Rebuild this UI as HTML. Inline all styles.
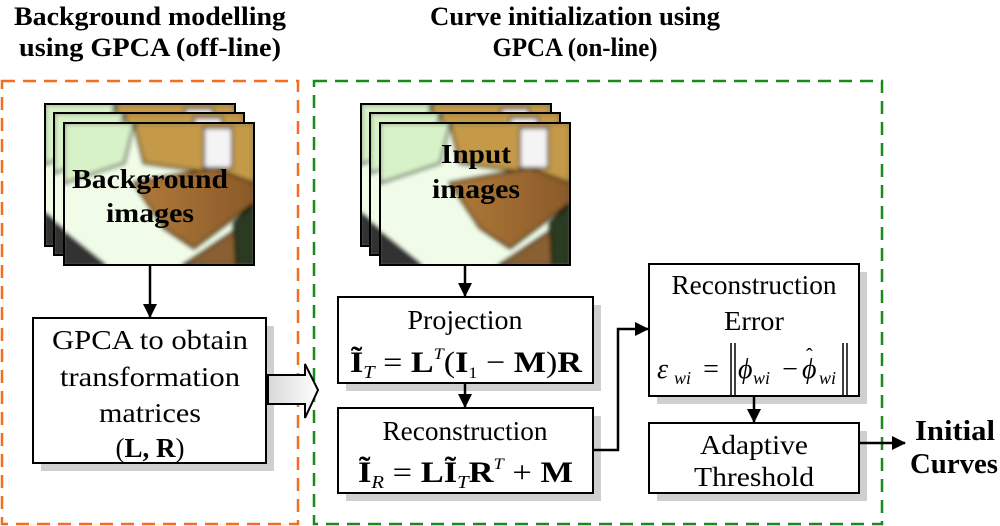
<!DOCTYPE html>
<html><head><meta charset="utf-8"><style>
html,body{margin:0;padding:0;background:#fff;width:1000px;height:526px;overflow:hidden}
svg{display:block}
text{font-family:"Liberation Serif","DejaVu Serif","Noto Serif CJK SC",serif}
</style></head><body>
<svg width="1000" height="526" viewBox="0 0 1000 526" xmlns="http://www.w3.org/2000/svg">
<defs>
<linearGradient id="floor" x1="0" y1="0" x2="1" y2="0">
<stop offset="0" stop-color="#b07a3a"/><stop offset="1" stop-color="#8a5a28"/>
</linearGradient>
<linearGradient id="harrow" x1="0" y1="0" x2="1" y2="0">
<stop offset="0" stop-color="#d8d8d8"/><stop offset="1" stop-color="#ffffff"/>
</linearGradient>
<filter id="bl"><feGaussianBlur stdDeviation="2"/></filter>
<marker id="ah" markerWidth="14" markerHeight="14" refX="13" refY="7" orient="auto" markerUnits="userSpaceOnUse">
<path d="M0,0 L14,7 L0,14 z" fill="#000"/></marker>
<clipPath id="pc"><rect x="0" y="0" width="190" height="142"/></clipPath>
<g id="photo">
<g clip-path="url(#pc)">
<rect x="0" y="0" width="190" height="142" fill="#f0fbe8"/>
<g filter="url(#bl)">
<path d="M70,0 H190 V70 L150,50 L80,40 Z" fill="#c49a48"/>
<path d="M0,0 H70 L60,40 L0,60 Z" fill="#d8f2c8"/>
<path d="M70,60 L150,45 L190,60 L190,80 L130,125 L100,105 Z" fill="url(#floor)"/>
<path d="M120,142 L190,95 L190,142 Z" fill="#8a6030"/>
<rect x="140" y="5" width="28" height="40" fill="#f4f4f4"/>
<path d="M0,110 L40,142 L0,142 Z" fill="#333"/>
<path d="M170,100 L190,80 L190,142 L172,142 Z" fill="#2a3a20"/>
</g></g>
</g>
</defs>
<rect x="2" y="81" width="296" height="443" fill="none" stroke="#f07020" stroke-width="2.5" stroke-dasharray="13,8"/>
<rect x="314" y="81" width="568" height="443" fill="none" stroke="#1a8a1a" stroke-width="2.5" stroke-dasharray="13,8"/>
<g font-size="26" font-weight="bold" text-anchor="middle">
<text x="150" y="25" textLength="272" lengthAdjust="spacingAndGlyphs">Background modelling</text>
<text x="150" y="56" textLength="262" lengthAdjust="spacingAndGlyphs">using GPCA (off-line)</text>
<text x="575" y="25" textLength="290" lengthAdjust="spacingAndGlyphs">Curve initialization using</text>
<text x="575" y="56" textLength="165" lengthAdjust="spacingAndGlyphs">GPCA (on-line)</text>
</g>
<g stroke="#000" stroke-width="2">
<use href="#photo" x="45" y="104"/><rect x="45" y="104" width="190" height="142" fill="none"/>
<use href="#photo" x="54" y="113"/><rect x="54" y="113" width="190" height="142" fill="none"/>
<use href="#photo" x="64" y="123"/><rect x="64" y="123" width="190" height="142" fill="none"/>
</g>
<text x="150" y="188" font-size="27" font-weight="bold" text-anchor="middle" textLength="156" lengthAdjust="spacingAndGlyphs">Background</text>
<text x="150" y="222" font-size="27" font-weight="bold" text-anchor="middle" textLength="88" lengthAdjust="spacingAndGlyphs">images</text>
<g stroke="#000" stroke-width="2">
<use href="#photo" x="361" y="104"/><rect x="361" y="104" width="190" height="142" fill="none"/>
<use href="#photo" x="370" y="113"/><rect x="370" y="113" width="190" height="142" fill="none"/>
<use href="#photo" x="380" y="123"/><rect x="380" y="123" width="190" height="142" fill="none"/>
</g>
<text x="476" y="163" font-size="27" font-weight="bold" text-anchor="middle" textLength="70" lengthAdjust="spacingAndGlyphs">Input</text>
<text x="476" y="198" font-size="27" font-weight="bold" text-anchor="middle" textLength="88" lengthAdjust="spacingAndGlyphs">images</text>
<g fill="#cfcfcf">
<rect x="41" y="326" width="233" height="145"/>
<rect x="346" y="305" width="255" height="86"/>
<rect x="346" y="416" width="255" height="85"/>
<rect x="657" y="272" width="210" height="132"/>
<rect x="657" y="431" width="210" height="70"/>
</g>
<g fill="#fff" stroke="#000" stroke-width="2">
<rect x="33" y="318" width="233" height="145"/>
<rect x="338" y="297" width="255" height="86"/>
<rect x="338" y="408" width="255" height="85"/>
<rect x="649" y="264" width="210" height="132"/>
<rect x="649" y="423" width="210" height="70"/>
</g>
<g font-size="27" text-anchor="middle">
<text x="150" y="349" textLength="196" lengthAdjust="spacingAndGlyphs">GPCA to obtain</text>
<text x="150" y="386" textLength="180" lengthAdjust="spacingAndGlyphs">transformation</text>
<text x="150" y="422" textLength="102" lengthAdjust="spacingAndGlyphs">matrices</text>
<text x="150" y="457">(<tspan font-weight="bold">L, R</tspan>)</text>
<text x="465" y="329" textLength="115" lengthAdjust="spacingAndGlyphs">Projection</text>
<text x="465" y="440" textLength="165" lengthAdjust="spacingAndGlyphs">Reconstruction</text>
<text x="754" y="294" textLength="165" lengthAdjust="spacingAndGlyphs">Reconstruction</text>
<text x="754" y="330" textLength="60" lengthAdjust="spacingAndGlyphs">Error</text>
<text x="754" y="454" textLength="108" lengthAdjust="spacingAndGlyphs">Adaptive</text>
<text x="754" y="486" textLength="120" lengthAdjust="spacingAndGlyphs">Threshold</text>
</g>
<text x="350" y="372" font-size="30" textLength="232" lengthAdjust="spacingAndGlyphs"><tspan font-weight="bold">Ĩ</tspan><tspan font-size="18" font-style="italic" dy="6">T</tspan><tspan dy="-6"> = </tspan><tspan font-weight="bold">L</tspan><tspan font-size="16" font-style="italic" dy="-13">T</tspan><tspan dy="13">(</tspan><tspan font-weight="bold">I</tspan><tspan font-size="16" dy="6">1</tspan><tspan dy="-6"> − </tspan><tspan font-weight="bold">M</tspan>)<tspan font-weight="bold">R</tspan></text>
<text x="358" y="482" font-size="30" textLength="215" lengthAdjust="spacingAndGlyphs"><tspan font-weight="bold">Ĩ</tspan><tspan font-size="18" font-style="italic" dy="6">R</tspan><tspan dy="-6"> = </tspan><tspan font-weight="bold">LĨ</tspan><tspan font-size="18" font-style="italic" dy="6">T</tspan><tspan dy="-6" font-weight="bold">R</tspan><tspan font-size="16" font-style="italic" dy="-13">T</tspan><tspan dy="13"> + </tspan><tspan font-weight="bold">M</tspan></text>
<!-- error formula -->
<text x="657" y="378" font-size="28" font-style="italic">ε</text>
<text x="674" y="384" font-size="18" font-style="italic">wi</text>
<text x="711" y="378" font-size="28" text-anchor="middle">=</text>
<g stroke="#000" stroke-width="1.5">
<line x1="731" y1="343" x2="731" y2="395"/><line x1="735" y1="343" x2="735" y2="395"/>
<line x1="843" y1="343" x2="843" y2="395"/><line x1="847" y1="343" x2="847" y2="395"/>
</g>
<text x="738" y="378" font-size="28" font-style="italic">ϕ</text>
<text x="753" y="384" font-size="18" font-style="italic">wi</text>
<text x="790" y="378" font-size="28" text-anchor="middle">−</text>
<text x="802" y="378" font-size="28" font-style="italic">ϕ</text>
<text x="806" y="362" font-size="20">ˆ</text>
<text x="819" y="384" font-size="18" font-style="italic">wi</text>
<g stroke="#000" stroke-width="2.5" fill="none" marker-end="url(#ah)">
<line x1="150" y1="266" x2="150" y2="317"/>
<line x1="465" y1="266" x2="465" y2="296"/>
<line x1="465" y1="384" x2="465" y2="407"/>
<polyline points="593,450 618,450 618,329 648,329"/>
<line x1="754" y1="396" x2="754" y2="422"/>
<line x1="859" y1="443" x2="905" y2="443"/>
</g>
<path d="M268,375 H305 V364 L318,390 L305,418 V404 H268 Z" fill="url(#harrow)" stroke="#000" stroke-width="2"/>
<text x="915" y="440" font-size="28" font-weight="bold" textLength="80" lengthAdjust="spacingAndGlyphs">Initial</text>
<text x="910" y="473" font-size="28" font-weight="bold" textLength="88" lengthAdjust="spacingAndGlyphs">Curves</text>
</svg>
</body></html>
